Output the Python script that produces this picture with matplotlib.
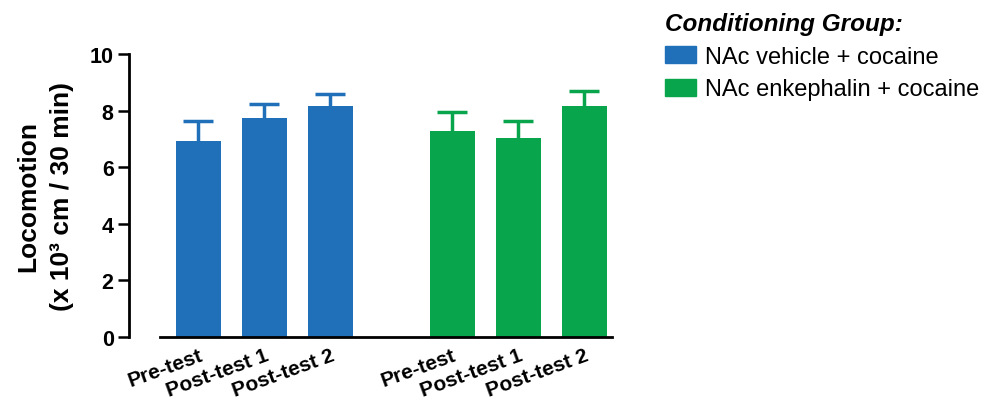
import matplotlib
matplotlib.use('Agg')
import matplotlib.pyplot as plt
from matplotlib.patches import Patch

plt.rcParams['font.family'] = ['Liberation Sans', 'DejaVu Sans']

# datos
sesiones = ['Pre-test', 'Post-test 1', 'Post-test 2']
grupos = ['NAc vehicle + cocaine', 'NAc enkephalin + cocaine']
vehiculo = [6.93, 7.75, 8.16]
vehiculo_err = [0.71, 0.48, 0.43]
encefalina = [7.28, 7.04, 8.16]
encefalina_err = [0.68, 0.60, 0.53]
colores = ['#1f70b8', '#09a54c']

fig = plt.figure(figsize=(9.95, 4.02), dpi=100)
ax = fig.add_axes([0.161, 0.159, 0.454, 0.704])

# mover el eje antes de tocar las etiquetas (set_position reinicia los ticks)
ax.spines['top'].set_visible(False)
ax.spines['right'].set_visible(False)
ax.spines['left'].set_position(('outward', 22.5))
ax.spines['left'].set_linewidth(2)
ax.spines['bottom'].set_linewidth(2)

pos_v = [0, 1, 2]
pos_e = [3.85, 4.85, 5.85]
ancho = 0.68

for pos, vals, errs, col in [(pos_v, vehiculo, vehiculo_err, colores[0]),
                             (pos_e, encefalina, encefalina_err, colores[1])]:
    ax.bar(pos, vals, width=ancho, color=col, zorder=2)
    # la mitad inferior queda tapada por la barra
    ax.errorbar(pos, vals, yerr=errs, fmt='none',
                ecolor=col, elinewidth=2.5, capsize=11, capthick=2.5, zorder=1)

ax.set_xlim(-0.58, 6.27)
ax.set_ylim(0, 10)
ax.set_yticks([0, 2, 4, 6, 8, 10])
ax.set_yticklabels(['0', '2', '4', '6', '8', '10'], fontsize=15.5, fontweight='bold')
ax.set_xticks(pos_v + pos_e)
ax.set_xticklabels(sesiones + sesiones, rotation=20, ha='right',
                   rotation_mode='anchor', fontsize=15, fontweight='bold')
ax.tick_params(axis='y', length=8, width=1.8, pad=3)
ax.tick_params(axis='x', length=0, pad=6)

ax.set_ylabel('Locomotion\n(x 10³ cm / 30 min)', fontsize=19,
              fontweight='bold', labelpad=11, linespacing=1.55)

handles = [Patch(color=c) for c in colores]
leg = fig.legend(handles, grupos, loc='upper left', bbox_to_anchor=(0.647, 1.02),
                 frameon=False, fontsize=17, title='Conditioning Group:',
                 title_fontproperties={'size': 17.5, 'weight': 'bold', 'style': 'italic'},
                 handlelength=1.3, handleheight=0.75, handletextpad=0.4,
                 labelspacing=0.45, alignment='left')

fig.savefig('out.png', dpi=100)
